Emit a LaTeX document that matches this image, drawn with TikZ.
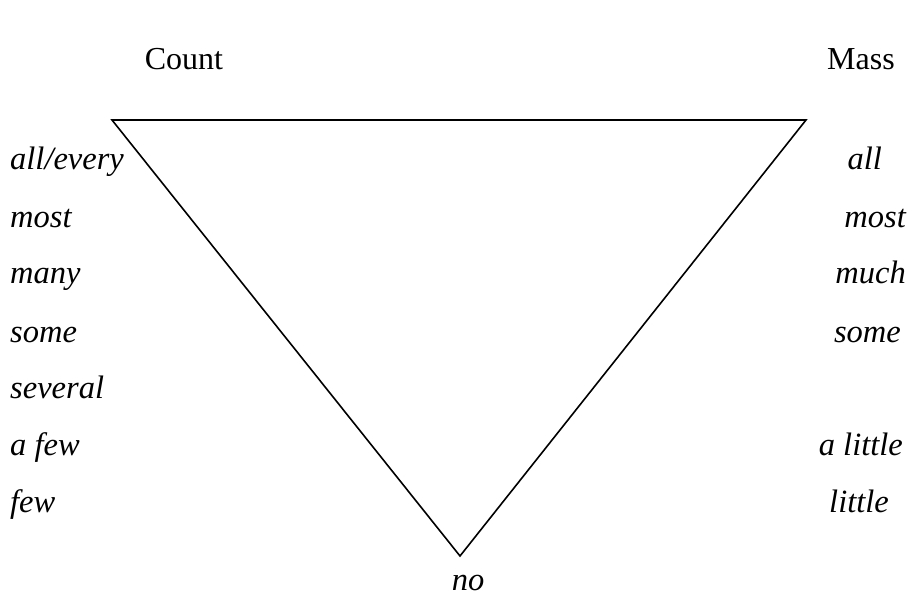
\documentclass[tikz,border=0pt]{standalone}
\usepackage{fontspec}
\setmainfont{Liberation Serif}
\begin{document}
\begin{tikzpicture}[x=1pt, y=-1pt]
    % Styles for the quantifier scale
    \tikzset{
        heading/.style={font=\fontsize{32}{36}\selectfont, inner sep=0pt, anchor=base},
        quant/.style={font=\fontsize{32.5}{36}\selectfont\itshape, inner sep=0pt},
        scale_edge/.style={black, line width=1.6pt, line join=miter}
    }
    \useasboundingbox (0,0) rectangle (907,601);

    % Corners of the inverted triangle
    \coordinate (TL) at (112,120);
    \coordinate (TR) at (806,120);
    \coordinate (BOT) at (460,556);

    \draw[scale_edge] (TL) -- (TR) -- (BOT) -- cycle;

    % Column headings
    \node[heading] (count) at (184,70) {Count};
    \node[heading] (mass) at (861,70) {Mass};

    % Count quantifiers, left column
    \foreach \name/\word/\y in {
        cAll/{all/every}/170,
        cMost/most/228,
        cMany/many/284,
        cSome/some/342,
        cSeveral/several/398,
        cAFew/a few/455,
        cFew/few/512%
    } {
        \node[quant, anchor=base west] (\name) at (10,\y) {\word};
    }

    % Mass quantifiers, right column
    \foreach \name/\word/\x/\y in {
        mAll/all/882/170,
        mMost/most/906/228,
        mMuch/much/906/284,
        mSome/some/901/342,
        mALittle/a little/903/455,
        mLittle/little/889/512%
    } {
        \node[quant, anchor=base east] (\name) at (\x,\y) {\word};
    }

    % Bottom of the scale
    \node[quant, anchor=base] (no) at (468,590) {no};
\end{tikzpicture}
\end{document}
